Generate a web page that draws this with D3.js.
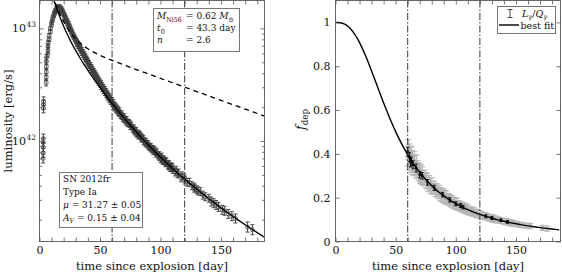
<!DOCTYPE html>
<html><head><meta charset="utf-8">
<script src="https://cdn.jsdelivr.net/npm/d3@7"></script>
<style>
body{margin:0;background:#fff}
svg{display:block}
text{font-family:"DejaVu Serif","Liberation Serif",serif;fill:#111}
text.cond{font-stretch:condensed}
</style>
</head><body>
<svg id="c" width="562" height="275"></svg>
<script>
// ---------- model curves ----------
const modelT = [0,2,4,6,8,10,12,14,16,18,20,22,25,28,31,34,37,40,43,46,50,55,60,65,70,75,80,85,90,95,100,105,110,115,120,125,130,135,140,145,150,155,160,165,170,175,180,186];
// best-fit luminosity [1e42 erg/s] (solid)
const modelL = [48.55,40.30,33.68,28.33,23.99,20.49,17.62,15.27,13.35,11.76,10.44,9.33,7.99,6.92,6.06,5.35,4.75,4.245,3.807,3.427,2.989,2.534,2.161,1.852,1.595,1.381,1.201,1.049,0.921,0.8115,0.7185,0.6386,0.5696,0.5098,0.4574,0.412,0.3724,0.3374,0.3065,0.2791,0.2545,0.2328,0.2134,0.1961,0.1805,0.1663,0.1535,0.1398];
// total radioactive energy deposition [1e42 erg/s] (dashed)
const modelQ = [48.55,40.31,33.74,28.46,24.22,20.83,18.09,15.89,14.10,12.66,11.48,10.52,9.383,8.525,7.865,7.349,6.934,6.595,6.310,6.064,5.779,5.472,5.202,4.957,4.729,4.516,4.314,4.121,3.940,3.767,3.601,3.443,3.292,3.147,3.009,2.877,2.750,2.629,2.513,2.404,2.298,2.197,2.100,2.008,1.920,1.836,1.7546,1.6626];
// best-fit deposition fraction (right panel)
const modelF = [1,0.99974,0.99843,0.99551,0.99057,0.98329,0.9735,0.9610,0.9458,0.9280,0.9077,0.8851,0.8476,0.8069,0.7638,0.7198,0.6758,0.6326,0.5908,0.5511,0.5014,0.4454,0.3959,0.3528,0.3152,0.2826,0.2542,0.2295,0.2080,0.1891,0.1726,0.1581,0.1452,0.1338,0.1235,0.1144,0.1063,0.0990,0.0924,0.0864,0.0809,0.0759,0.0714,0.0673,0.0635,0.0600,0.0568,0.0533];

// ---------- bolometric light curve data [1e42 erg/s], errors in dex ----------
const lumT = [
 3.0,3.0,3.1,3.1,3.2,3.3,3.3,3.4, 5.5,5.5,5.6,5.6,5.7,5.7, 6.9,7.0,7.0,7.1,
 8,8,9,9,10,10,11,11,12,12,13,13,14,14,15,15,16,16,17,17,18,18,19,19,20,20,
 21,21,22,22,23,23,24,24,25,25,26,26,27,27,28,28,29,29,30,30,
 31,31,32,32,33,33,34,34,35,35,36,36,37,37,38,38,39,39,40,40,
 41,41,42,42,43,43,44,44,45,45,46,46,47,47,48,48,49,49,50,50,
 51,51,52,52,53,53,54,54,55,55,56,56,57,57,58,58,59,59,60,60,
 61,61,62,62,63,63,64,64,65,65,
 66,66,67,68,68,69,70,70,71,72,
 72,73,74,75,75,76,77,78,78,79,
 80,80,81,82,82,83,84,84,85,86,
 86,87,88,88,89,90,90,91,92,92,
 93,94,94,95,96,96,97,98,99,99,
 100,101,101,102,103,104,104,105,106,107,
 107,108,109,110,110,112,113,114,115,117,
 118,120,120,122,124,126,128,128,130,131,
 133,135,137,140,142,144,146,148,151,153,
 156,159,162,172,176];
const lumL = [
 0.70,0.78,0.88,0.97,1.05,1.95,2.10,2.25, 3.3,3.7,4.1,4.6,5.1,5.5, 5.9,6.4,6.9,7.4,
 8.0,8.6,9.4,10.0,10.8,11.3,12.0,12.5,13.1,13.5,13.9,14.3,14.5,14.9,14.9,15.3,15.1,15.5,15.0,15.4,14.6,15.0,14.0,14.4,13.2,13.6,
 12.4,12.9,11.8,12.3,11.1,11.6,10.5,11.0,9.9,10.4,9.4,9.8,8.9,9.3,8.45,8.8,8.05,8.4,7.7,8.0,
 7.3,7.6,7.0,7.3,6.7,7.0,6.4,6.7,6.1,6.4,5.85,6.1,5.6,5.85,5.35,5.6,5.1,5.35,4.9,5.15,
 4.7,4.9,4.5,4.7,4.3,4.5,4.1,4.3,3.95,4.15,3.8,3.98,3.62,3.8,3.47,3.65,3.33,3.5,3.2,3.35,
 3.07,3.2,2.95,3.08,2.83,2.95,2.72,2.84,2.62,2.73,2.52,2.63,2.43,2.53,2.34,2.44,2.26,2.35,2.18,2.27,
 2.05,2.18,2.07,1.98,1.93,2.02,1.95,1.87,1.80,1.90,
 1.84,1.76,1.70,1.73,1.66,1.60,1.63,1.56,1.52,1.54,
 1.47,1.43,1.45,1.35,1.41,1.37,1.28,1.30,1.24,1.21,
 1.23,1.17,1.14,1.16,1.11,1.13,1.05,1.10,1.07,1.00,
 1.04,0.97,0.99,0.95,0.93,0.94,0.90,0.88,0.89,0.86,
 0.84,0.85,0.81,0.83,0.77,0.81,0.79,0.74,0.75,0.72,
 0.70,0.72,0.69,0.67,0.68,0.64,0.66,0.65,0.61,0.62,
 0.60,0.58,0.59,0.56,0.58,0.53,0.55,0.51,0.52,0.47,
 0.49,0.45,0.47,0.43,0.43,0.40,0.39,0.38,0.37,0.36,
 0.355,0.33,0.32,0.31,0.29,0.28,0.27,0.26,0.245,0.24,
 0.225,0.215,0.205,0.172,0.163];
const lumE = [
 0.04,0.04,0.04,0.04,0.04,0.04,0.04,0.04, 0.03,0.03,0.03,0.03,0.03,0.03, 0.025,0.025,0.025,0.025,
 0.02,0.02,0.02,0.02,0.02,0.02,0.02,0.02,0.02,0.02,0.02,0.02,0.02,0.02,0.02,0.02,0.02,0.02,0.02,0.02,0.02,0.02,0.02,0.02,0.02,0.02,
 0.02,0.02,0.02,0.02,0.02,0.02,0.02,0.02,0.02,0.02,0.02,0.02,0.02,0.02,0.02,0.02,0.02,0.02,0.02,0.02,
 0.025,0.025,0.025,0.025,0.025,0.025,0.025,0.025,0.025,0.025,0.025,0.025,0.025,0.025,0.025,0.025,0.025,0.025,0.025,0.025,
 0.025,0.025,0.025,0.025,0.025,0.025,0.025,0.025,0.025,0.025,0.025,0.025,0.025,0.025,0.025,0.025,0.025,0.025,0.025,0.025,
 0.03,0.03,0.03,0.03,0.03,0.03,0.03,0.03,0.03,0.03,0.03,0.03,0.03,0.03,0.03,0.03,0.03,0.03,0.03,0.03,
 0.03,0.03,0.03,0.03,0.03,0.03,0.03,0.03,0.03,0.03,
 0.03,0.03,0.03,0.03,0.03,0.03,0.03,0.03,0.03,0.03,
 0.03,0.03,0.03,0.03,0.03,0.03,0.03,0.03,0.03,0.03,
 0.03,0.03,0.03,0.03,0.03,0.03,0.03,0.03,0.03,0.03,
 0.03,0.03,0.03,0.03,0.03,0.03,0.03,0.03,0.03,0.03,
 0.03,0.03,0.03,0.03,0.03,0.03,0.03,0.03,0.03,0.03,
 0.035,0.035,0.035,0.035,0.035,0.035,0.035,0.035,0.035,0.035,
 0.035,0.035,0.035,0.035,0.035,0.035,0.035,0.035,0.035,0.035,
 0.035,0.035,0.035,0.035,0.035,0.035,0.035,0.035,0.035,0.035,
 0.035,0.035,0.035,0.035,0.04,0.04,0.04,0.04,0.04,0.04,
 0.04,0.04,0.04,0.045,0.045];

// ---------- deposition fraction data L_gamma/Q_gamma ----------
const fdepT = [60,60.5,61,61.5,62,62.5,63,63.5,64,65,
 65.5,66,67,67.5,68,69,70,70.5,71,72,
 73,74,75,76,77,78,79,80,81,82,
 83,84,85,86,87,88,89,90,91,92,
 93,94,95,96,97,98,99,100,101,102,
 103,104,105,106,107,108,109,110,112,113,
 114,115,117,118,120,122,124,126,128,130,
 131,133,135,137,140,142,144,146,148,151,
 153,156,159,162,172,176];
const fdepV = [0.39,0.42,0.37,0.40,0.36,0.385,0.39,0.35,0.37,0.345,
 0.365,0.35,0.33,0.35,0.33,0.32,0.315,0.305,0.31,0.30,
 0.29,0.29,0.28,0.275,0.265,0.265,0.255,0.255,0.245,0.245,
 0.235,0.235,0.228,0.225,0.216,0.215,0.208,0.21,0.202,0.20,
 0.194,0.193,0.188,0.184,0.183,0.176,0.176,0.171,0.171,0.164,
 0.164,0.158,0.158,0.153,0.154,0.148,0.149,0.144,0.139,0.139,
 0.134,0.135,0.128,0.128,0.123,0.12,0.116,0.113,0.108,0.107,
 0.104,0.101,0.099,0.096,0.092,0.09,0.087,0.085,0.082,0.079,
 0.077,0.074,0.072,0.07,0.062,0.059];
const fdepE = [0.045,0.045,0.045,0.045,0.045,0.045,0.045,0.045,0.045,0.045,
 0.045,0.045,0.04,0.045,0.04,0.04,0.04,0.04,0.04,0.04,
 0.035,0.035,0.035,0.035,0.035,0.035,0.035,0.035,0.03,0.03,
 0.03,0.03,0.03,0.03,0.03,0.03,0.03,0.03,0.03,0.03,
 0.026,0.026,0.026,0.026,0.026,0.026,0.026,0.026,0.026,0.022,
 0.022,0.022,0.022,0.022,0.022,0.022,0.022,0.022,0.019,0.019,
 0.019,0.019,0.019,0.019,0.019,0.016,0.016,0.016,0.016,0.016,
 0.016,0.016,0.014,0.014,0.014,0.014,0.014,0.014,0.014,0.012,
 0.012,0.012,0.012,0.012,0.012,0.012];
const fdepBT = [60,61.5,62.5,63,64.5,67,70,72,76.5,82,89,95,100,104,106,125,130,137.5,143];
const fdepBV = [0.41,0.385,0.36,0.366,0.35,0.335,0.305,0.30,0.27,0.245,0.214,0.19,0.172,0.164,0.157,0.115,0.107,0.097,0.089];
const fdepBE = [0.02,0.02,0.02,0.02,0.018,0.018,0.015,0.015,0.013,0.012,0.01,0.01,0.009,0.009,0.008,0.007,0.007,0.006,0.006];

// ---------- axes ----------
const xTickStep = d3.range(0, 190, 10);
const xLabelTicks = [0, 50, 100, 150];
const lumMajor = [1, 10];
const lumMajorExp = ["42", "43"];
const lumMinor = [0.2,0.3,0.4,0.5,0.6,0.7,0.8,0.9,2,3,4,5,6,7,8,9];
const fTicks = [0, 0.2, 0.4, 0.6, 0.8, 1];
const markerDays = [60, 120];

const svg = d3.select("#c");
const L = {x0: 39.5, x1: 264.5, y0: 0.5, y1: 241.5};
const R = {x0: 335.5, x1: 560.5, y0: 0.5, y1: 241.5};
const xL = d3.scaleLinear().domain([0, 186]).range([L.x0, L.x1]);
const yL = d3.scaleLog().domain([0.128, 17.7]).range([L.y1, L.y0]);
const xR = d3.scaleLinear().domain([0, 187]).range([R.x0, R.x1]);
const yR = d3.scaleLinear().domain([0, 1.1]).range([R.y1, R.y0]);

const defs = svg.append("defs");
defs.append("clipPath").attr("id", "clipL").append("rect").attr("x", L.x0).attr("y", L.y0).attr("width", L.x1 - L.x0).attr("height", L.y1 - L.y0);
defs.append("clipPath").attr("id", "clipR").append("rect").attr("x", R.x0).attr("y", R.y0).attr("width", R.x1 - R.x0).attr("height", R.y1 - R.y0);

const TICKFS = 11;
const LABFS = 11.5;
const LABY = 269.5;
function styleAxis(g, showLabels) {
  g.attr("font-size", TICKFS);
  g.select(".domain").remove();
  g.selectAll(".tick line").attr("stroke", "#555").attr("stroke-width", 0.8);
  g.selectAll(".tick text").attr("fill", "#111");
  if (!showLabels) g.selectAll(".tick text").remove();
}
function xAxes(x, P) {
  const fmt = d => xLabelTicks.includes(d) ? d : "";
  svg.append("g").attr("transform", `translate(0,${P.y1})`)
    .call(d3.axisBottom(x).tickValues(xTickStep).tickSize(-4).tickPadding(4.5).tickFormat(fmt))
    .call(g => styleAxis(g, true));
  svg.append("g").attr("transform", `translate(0,${P.y0})`)
    .call(d3.axisTop(x).tickValues(xTickStep).tickSize(-4).tickFormat(""))
    .call(g => styleAxis(g, false));
}
function mtext(x, y, parts, size, cls) {
  const t = svg.append("text").attr("x", x).attr("y", y).attr("font-size", size);
  if (cls) t.attr("class", cls);
  parts.forEach(p => {
    const s = t.append("tspan").text(p.t);
    if (p.i) s.attr("font-style", "italic");
    if (p.sub) s.attr("font-size", size * 0.7).attr("dy", p.dy ?? 2.5);
    if (p.back) s.attr("dy", p.back);
  });
  return t;
}

// ================= LEFT PANEL =================
const gL = svg.append("g").attr("clip-path", "url(#clipL)");
const lumIdx = d3.range(lumT.length);
const eb = gL.append("g").attr("stroke", "#222").attr("stroke-width", 0.8).attr("fill", "none");
lumIdx.forEach(i => {
  const x = xL(lumT[i]);
  const yt = yL(lumL[i] * Math.pow(10, lumE[i]));
  const yb = yL(lumL[i] / Math.pow(10, lumE[i]));
  eb.append("path").attr("d", `M${x},${yt}V${yb}M${x-2},${yt}H${x+2}M${x-2},${yb}H${x+2}`);
});
gL.append("g").selectAll("circle").data(lumIdx).join("circle")
  .attr("cx", i => xL(lumT[i])).attr("cy", i => yL(lumL[i])).attr("r", 2)
  .attr("fill", "none").attr("stroke", "#444").attr("stroke-width", 0.8);

const lineL = d3.line().x(i => xL(modelT[i])).curve(d3.curveMonotoneX);
gL.append("path").attr("d", lineL.y(i => yL(modelQ[i]))(d3.range(modelT.length)))
  .attr("fill", "none").attr("stroke", "#000").attr("stroke-width", 1.3).attr("stroke-dasharray", "5,4");
gL.append("path").attr("d", lineL.y(i => yL(modelL[i]))(d3.range(modelT.length)))
  .attr("fill", "none").attr("stroke", "#000").attr("stroke-width", 1.3);
gL.selectAll("line.mk").data(markerDays).join("line").attr("class", "mk")
  .attr("x1", d => xL(d)).attr("x2", d => xL(d)).attr("y1", L.y0).attr("y2", L.y1)
  .attr("stroke", "#222").attr("stroke-width", 0.9).attr("stroke-dasharray", "7,2,1.5,2");

svg.append("rect").attr("x", L.x0).attr("y", L.y0).attr("width", L.x1 - L.x0).attr("height", L.y1 - L.y0)
  .attr("fill", "none").attr("stroke", "#666").attr("stroke-width", 1);
xAxes(xL, L);
[[d3.axisLeft, L.x0], [d3.axisRight, L.x1]].forEach(([ax, xp]) => {
  svg.append("g").attr("transform", `translate(${xp},0)`)
    .call(ax(yL).tickValues(lumMajor).tickSize(-4).tickFormat("")).call(g => styleAxis(g, false));
  svg.append("g").attr("transform", `translate(${xp},0)`)
    .call(ax(yL).tickValues(lumMinor).tickSize(-2.5).tickFormat("")).call(g => styleAxis(g, false));
});
lumMajor.forEach((v, k) => {
  const yb = yL(v) + 4;
  svg.append("text").attr("x", 26).attr("y", yb).attr("text-anchor", "end").attr("font-size", TICKFS).text("10");
  svg.append("text").attr("x", 26.5).attr("y", yb - 5).attr("font-size", 7.5).text(lumMajorExp[k]);
});
svg.append("text").attr("transform", `translate(12,${(L.y0 + L.y1) / 2}) rotate(-90)`)
  .attr("text-anchor", "middle").attr("font-size", LABFS).text("luminosity [erg/s]");
svg.append("text").attr("x", (L.x0 + L.x1) / 2).attr("y", LABY).attr("text-anchor", "middle")
  .attr("font-size", LABFS).text("time since explosion [day]");

// info box top
svg.append("rect").attr("x", 153.5).attr("y", 8.5).attr("width", 86).attr("height", 43)
  .attr("fill", "#fff").attr("stroke", "#777").attr("stroke-width", 1);
mtext(157, 19, [{t: "M", i: 1}, {t: "Ni56", sub: 1}], 10, "cond");
mtext(186, 19, [{t: "= 0.62 "}, {t: "M", i: 1}, {t: "\u2299", sub: 1}], 10, "cond");
mtext(157, 31, [{t: "t", i: 1}, {t: "0", sub: 1}], 10, "cond");
mtext(186, 31, [{t: "= 43.3 day"}], 10, "cond");
mtext(157, 43, [{t: "n", i: 1}], 10, "cond");
mtext(186, 43, [{t: "= 2.6"}], 10, "cond");

// info box bottom
svg.append("rect").attr("x", 59.5).attr("y", 172.5).attr("width", 83).attr("height", 55)
  .attr("fill", "#fff").attr("stroke", "#777").attr("stroke-width", 1);
mtext(63, 181.5, [{t: "SN 2012fr"}], 10, "cond");
mtext(63, 194.5, [{t: "Type Ia"}], 10, "cond");
mtext(63, 207.5, [{t: "\u03bc", i: 1}, {t: " = 31.27 \u00b1 0.05"}], 10, "cond");
mtext(63, 220.5, [{t: "A", i: 1}, {t: "V", i: 1, sub: 1}, {t: " = 0.15 \u00b1 0.04", back: -2.5}], 10, "cond");

// ================= RIGHT PANEL =================
const gR = svg.append("g").attr("clip-path", "url(#clipR)");
const fIdx = d3.range(fdepT.length);
const ebR = gR.append("g").attr("stroke", "#b4b4b4").attr("stroke-width", 1).attr("fill", "none");
fIdx.forEach(i => {
  const x = xR(fdepT[i]), yt = yR(fdepV[i] + fdepE[i]), yb = yR(fdepV[i] - fdepE[i]);
  ebR.append("path").attr("d", `M${x},${yt}V${yb}M${x-3},${yt}H${x+3}M${x-3},${yb}H${x+3}`);
});
gR.append("g").selectAll("circle").data(fIdx).join("circle")
  .attr("cx", i => xR(fdepT[i])).attr("cy", i => yR(fdepV[i])).attr("r", 2)
  .attr("fill", "none").attr("stroke", "#aaa").attr("stroke-width", 0.8);
const bIdx = d3.range(fdepBT.length);
const ebB = gR.append("g").attr("stroke", "#111").attr("stroke-width", 1).attr("fill", "none");
bIdx.forEach(i => {
  const x = xR(fdepBT[i]), yt = yR(fdepBV[i] + fdepBE[i]), yb = yR(fdepBV[i] - fdepBE[i]);
  ebB.append("path").attr("d", `M${x},${yt}V${yb}M${x-1.5},${yt}H${x+1.5}M${x-1.5},${yb}H${x+1.5}`);
});
gR.append("g").selectAll("circle").data(bIdx).join("circle")
  .attr("cx", i => xR(fdepBT[i])).attr("cy", i => yR(fdepBV[i])).attr("r", 1.4).attr("fill", "#111");

gR.append("path").attr("d", d3.line().x(i => xR(modelT[i])).y(i => yR(modelF[i])).curve(d3.curveMonotoneX)(d3.range(modelT.length)))
  .attr("fill", "none").attr("stroke", "#000").attr("stroke-width", 1.4);
gR.selectAll("line.mk").data(markerDays).join("line").attr("class", "mk")
  .attr("x1", d => xR(d)).attr("x2", d => xR(d)).attr("y1", R.y0).attr("y2", R.y1)
  .attr("stroke", "#222").attr("stroke-width", 0.9).attr("stroke-dasharray", "7,2,1.5,2");

svg.append("rect").attr("x", R.x0).attr("y", R.y0).attr("width", R.x1 - R.x0).attr("height", R.y1 - R.y0)
  .attr("fill", "none").attr("stroke", "#666").attr("stroke-width", 1);
xAxes(xR, R);
svg.append("g").attr("transform", `translate(${R.x0},0)`)
  .call(d3.axisLeft(yR).tickValues(fTicks).tickSize(-4).tickPadding(5).tickFormat(d3.format("~g")))
  .call(g => styleAxis(g, true));
svg.append("g").attr("transform", `translate(${R.x1},0)`)
  .call(d3.axisRight(yR).tickValues(fTicks).tickSize(-4).tickFormat(""))
  .call(g => styleAxis(g, false));
mtext(0, 0, [{t: "f", i: 1}, {t: "dep", sub: 1}], 12.5)
  .attr("transform", `translate(305,${(R.y0 + R.y1) / 2 + 9}) rotate(-90)`);
svg.append("text").attr("x", (R.x0 + R.x1) / 2).attr("y", LABY).attr("text-anchor", "middle")
  .attr("font-size", LABFS).text("time since explosion [day]");

// legend
svg.append("rect").attr("x", 497.5).attr("y", 6.5).attr("width", 58).attr("height", 27)
  .attr("fill", "#fff").attr("stroke", "#777").attr("stroke-width", 1);
svg.append("path").attr("d", "M510,9.5V17.5M507.5,9.5H512.5M507.5,17.5H512.5")
  .attr("stroke", "#444").attr("stroke-width", 1).attr("fill", "none");
mtext(522, 16.5, [{t: "L", i: 1}, {t: "\u03b3", i: 1, sub: 1}, {t: "/", back: -2.5}, {t: "Q", i: 1}, {t: "\u03b3", i: 1, sub: 1}], 9.5);
svg.append("line").attr("x1", 499).attr("x2", 519).attr("y1", 25).attr("y2", 25).attr("stroke", "#000").attr("stroke-width", 1.4);
mtext(520.5, 28.5, [{t: "best fit"}], 9.5);
</script>
</body></html>
